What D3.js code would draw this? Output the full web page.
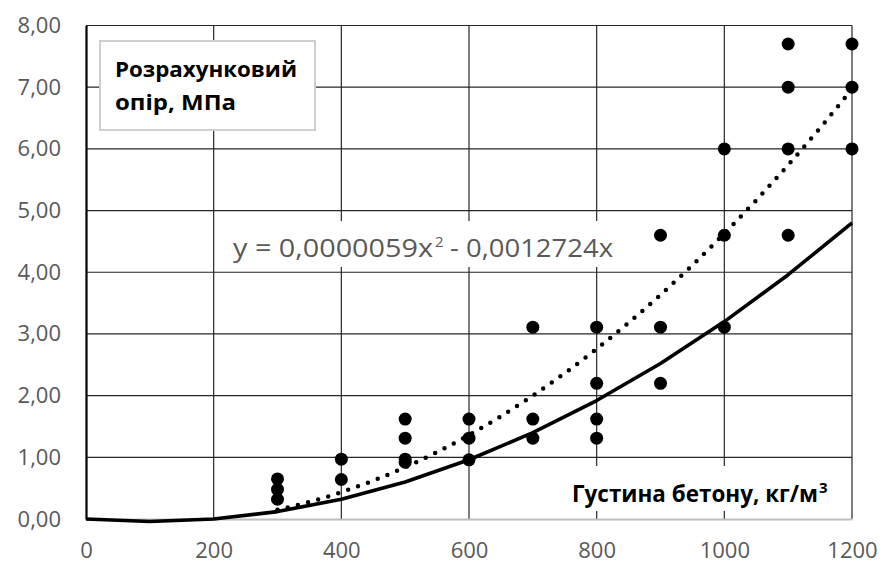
<!DOCTYPE html>
<html>
<head>
<meta charset="utf-8">
<script src="https://cdn.jsdelivr.net/npm/d3@7"></script>
<style>
  html, body { margin: 0; padding: 0; background: #fff; }
  svg { display: block; font-family: "Open Sans", sans-serif; }
</style>
</head>
<body>
<svg id="chart" width="880" height="562"></svg>
<script>
// Measured design resistance (MPa) against concrete density (kg/m³)
const densities = [300, 300, 300, 400, 400, 500, 500, 500, 500, 600, 600, 600,
                   700, 700, 700, 800, 800, 800, 800, 900, 900, 900,
                   1000, 1000, 1000, 1100, 1100, 1100, 1100, 1200, 1200, 1200];
const resistances = [0.65, 0.48, 0.32, 0.97, 0.64, 1.62, 1.31, 0.97, 0.92, 1.62, 1.31, 0.96,
                     3.11, 1.62, 1.31, 3.11, 2.2, 1.62, 1.31, 4.6, 3.11, 2.2,
                     6.0, 4.6, 3.11, 7.7, 7.0, 6.0, 4.6, 7.7, 7.0, 6.0];

// Normative curve (solid line)
const normX = [0, 100, 200, 300, 400, 500, 600, 700, 800, 900, 1000, 1100, 1200];
const normY = [0, -0.04, 0, 0.12, 0.32, 0.6, 0.96, 1.4, 1.92, 2.52, 3.2, 3.96, 4.8];

// Polynomial trendline coefficients, as printed in the equation label
const trendA = 0.0000059;
const trendB = -0.0012724;
const trendX = [300, 350, 400, 450, 500, 550, 600, 650, 700, 750, 800, 850, 900, 950, 1000, 1050, 1100, 1150, 1200];

const xTicks = [0, 200, 400, 600, 800, 1000, 1200];
const yTicks = [0, 1, 2, 3, 4, 5, 6, 7, 8];

const svg = d3.select("#chart");
const x = d3.scaleLinear().domain([0, 1200]).range([86, 852]);
const y = d3.scaleLinear().domain([0, 8]).range([519, 25.5]);
const fmtY = v => d3.format(".2f")(v).replace(".", ",");

// Gridlines
const grid = svg.append("g");
grid.selectAll(".hg").data(yTicks.filter(d => d > 0)).join("line")
  .attr("x1", x(0)).attr("x2", x(1200))
  .attr("y1", d => y(d)).attr("y2", d => y(d))
  .attr("stroke", "#262626").attr("stroke-width", 1.2);
grid.selectAll(".vg").data(xTicks.filter(d => d > 0)).join("line")
  .attr("x1", d => x(d)).attr("x2", d => x(d))
  .attr("y1", y(8)).attr("y2", y(0))
  .attr("stroke", "#262626").attr("stroke-width", 1.2);

// Axes
const xAxis = d3.axisBottom(x).tickValues(xTicks).tickSize(0).tickPadding(23).tickFormat(d3.format("d"));
const gx = svg.append("g").attr("transform", `translate(0,${y(0)})`).call(xAxis);
gx.select(".domain").attr("stroke", "#bfbfbf").attr("stroke-width", 2.2);
gx.selectAll("text").attr("fill", "#595959").attr("font-size", 22).attr("font-family", "Open Sans");

const yAxis = d3.axisLeft(y).tickValues(yTicks).tickSize(0).tickPadding(25).tickFormat(fmtY);
const gy = svg.append("g").attr("transform", `translate(${x(0)},0)`).call(yAxis);
gy.select(".domain").attr("stroke", "#000").attr("stroke-width", 2.2);
gy.selectAll("text").attr("fill", "#595959").attr("font-size", 22).attr("font-family", "Open Sans");

// Equation label backdrop and x-axis title backdrop
svg.append("rect").attr("x", 226).attr("y", 221).attr("width", 420).attr("height", 46).attr("fill", "#fff");
svg.append("rect").attr("x", 560).attr("y", 466).attr("width", 291).attr("height", 45).attr("fill", "#fff");

// Normative curve
svg.append("path")
  .datum(normX.map((d, i) => [d, normY[i]]))
  .attr("d", d3.line().x(d => x(d[0])).y(d => y(d[1])))
  .attr("fill", "none").attr("stroke", "#000").attr("stroke-width", 3.6)
  .attr("stroke-linejoin", "round");

// Trendline (dotted)
svg.append("path")
  .datum(trendX.map(d => [d, trendA * d * d + trendB * d]))
  .attr("d", d3.line().curve(d3.curveMonotoneX).x(d => x(d[0])).y(d => y(d[1])))
  .attr("fill", "none").attr("stroke", "#000").attr("stroke-width", 4.5)
  .attr("stroke-linecap", "round").attr("stroke-dasharray", "0 10.5");

// Data points
svg.append("g").selectAll("circle")
  .data(densities.map((d, i) => [d, resistances[i]]))
  .join("circle")
  .attr("cx", d => x(d[0])).attr("cy", d => y(d[1]))
  .attr("r", 6.5).attr("fill", "#000");

// Equation text
const eq = svg.append("text").attr("y", 257)
  .attr("fill", "#595959").attr("font-size", 25).attr("font-family", "Open Sans");
eq.append("tspan").attr("x", 233).attr("textLength", 200).attr("lengthAdjust", "spacingAndGlyphs")
  .text("y = 0,0000059x");
eq.append("tspan").attr("x", 435).attr("dy", -10).attr("font-size", 15).text("2");
eq.append("tspan").attr("x", 450).attr("dy", 10).attr("textLength", 163).attr("lengthAdjust", "spacingAndGlyphs")
  .text("- 0,0012724x");

// X-axis title
const xt = svg.append("text").attr("y", 502)
  .attr("fill", "#000").attr("font-size", 23).attr("font-weight", "bold").attr("font-family", "Open Sans");
xt.append("tspan").attr("x", 572).attr("textLength", 246).attr("lengthAdjust", "spacingAndGlyphs")
  .text("Густина бетону, кг/м");
xt.append("tspan").attr("x", 819).attr("dy", -9).attr("font-size", 15).text("3");

// Y-axis title box
svg.append("rect").attr("x", 100).attr("y", 41).attr("width", 215).attr("height", 89)
  .attr("fill", "#fff").attr("stroke", "#cfcfcf").attr("stroke-width", 2);
const yt = svg.append("text").attr("fill", "#000").attr("font-size", 22)
  .attr("font-weight", "bold").attr("font-family", "Open Sans");
yt.append("tspan").attr("x", 115).attr("y", 77).attr("textLength", 182).attr("lengthAdjust", "spacingAndGlyphs")
  .text("Розрахунковий");
yt.append("tspan").attr("x", 115).attr("y", 110).attr("textLength", 121).attr("lengthAdjust", "spacingAndGlyphs")
  .text("опір, МПа");
</script>
</body>
</html>
